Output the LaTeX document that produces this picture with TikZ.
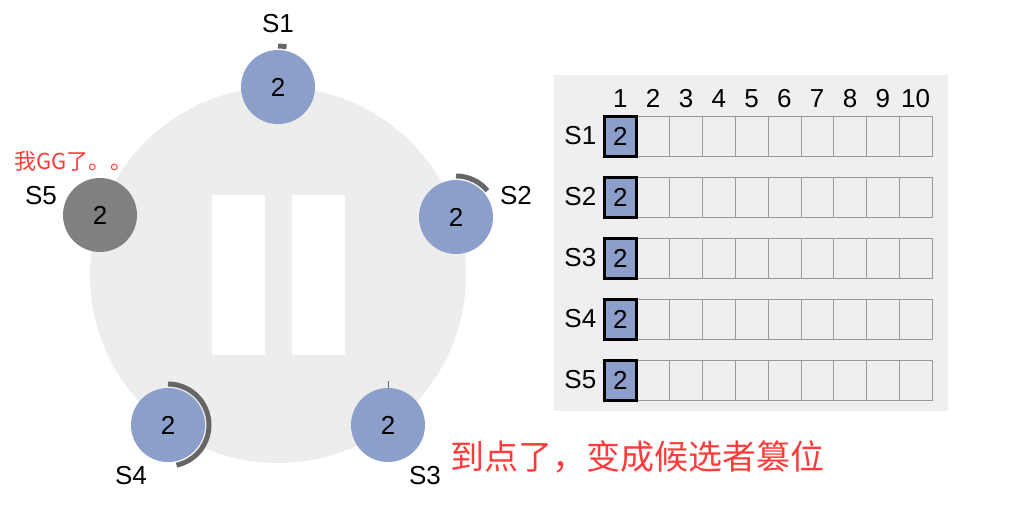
\documentclass[tikz,border=0pt]{standalone}
\usepackage{fontspec}
\setmainfont{Liberation Sans}
\newfontfamily\cjk{Noto Sans CJK SC}
\usetikzlibrary{positioning}
\definecolor{nodeblue}{HTML}{8C9FCA}
\definecolor{deadgrey}{HTML}{808080}
\definecolor{ringbg}{HTML}{EDEDED}
\definecolor{tablebg}{HTML}{EFEFEF}
\definecolor{timer}{HTML}{666666}
\definecolor{alert}{HTML}{FF3B3B}
\tikzset{
  srv/.style={circle, fill=nodeblue, minimum size=74pt, inner sep=0pt, font=\fontsize{26}{26}\selectfont},
  lbl/.style={font=\fontsize{26}{26}\selectfont},
  cell/.style={draw=gray!80, minimum width=32.8pt, minimum height=40pt, inner sep=0pt},
  tick/.style={timer, line width=5pt},
}

\begin{document}
\begin{tikzpicture}[x=1pt, y=-1pt]
  \useasboundingbox (0,0) rectangle (1010,512);
  % ring with pause sign
  \fill[ringbg] (278,275) circle (188pt);
  \fill[white] (212,195) rectangle (265,355);
  \fill[white] (292,195) rectangle (345,355);

  \node[srv] (s1) at (278,87) {2};
  \node[srv] (s2) at (456,217) {2};
  \node[srv] (s3) at (388,425) {2};
  \node[srv] (s4) at (168,425) {2};
  \node[srv, fill=deadgrey] (s5) at (100,215) {2};

  \node[lbl] (l1) at (278,24) {S1};
  \node[lbl] (l2) at (516,196) {S2};
  \node[lbl] (l3) at (425,476) {S3};
  \node[lbl] (l4) at (131,476) {S4};
  \node[lbl] (l5) at (41,196) {S5};

  % election timers
  \draw[tick] (s1.center) ++(90:41pt) arc[start angle=90, end angle=78, radius=41pt];
  \draw[tick] (s2.center) ++(90:41pt) arc[start angle=90, end angle=40, radius=41pt];
  \draw[tick] (s4.center) ++(90:41pt) arc[start angle=90, end angle=-78, radius=41pt];
  \draw[timer, line width=0.6pt] (s3.north) -- ++(90:7pt);

  \node[font=\cjk\fontsize{22}{22}\selectfont, text=alert, anchor=west] (gg) at (11,161) {我GG了。。};
  \node[font=\cjk\fontsize{34}{34}\selectfont, text=alert] (msg) at (637,457) {到点了，变成候选者篡位};

  % logs
  \fill[tablebg] (554,75) rectangle (948,411);
  \foreach \r in {1,...,5} {
    \foreach \c in {1,...,10}
      \node[cell] (c\r-\c) at ({604+16.4+32.8*(\c-1)},{136+61*(\r-1)}) {};
    \node[cell, fill=nodeblue, draw=black, line width=3pt, lbl] (f\r) at (c\r-1) {2};
    \node[lbl, left=4pt of c\r-1] (r\r) {S\r};
  }
  \foreach \c in {1,...,10}
    \node[lbl, above=5pt of c1-\c] (h\c) {\c};
\end{tikzpicture}
\end{document}
